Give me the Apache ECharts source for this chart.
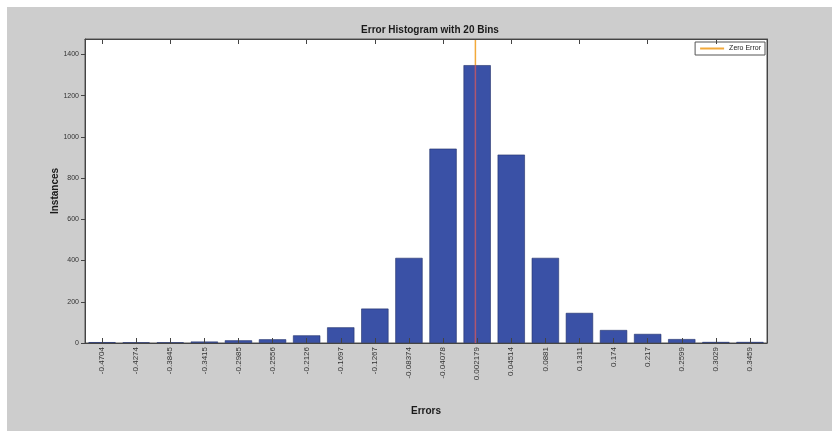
<!DOCTYPE html>
<html>
<head>
<meta charset="utf-8">
<script src="https://cdn.jsdelivr.net/npm/echarts@6/dist/echarts.min.js"></script>
<style>
html,body{margin:0;padding:0;background:#ffffff;}
#wrap{position:absolute;left:7px;top:7px;width:825px;height:424px;background:#cdcdcd;}
#chart{position:absolute;left:0;top:0;width:832px;height:431px;}
</style>
</head>
<body>
<div id="wrap"></div>
<div id="chart"></div>
<script>
var binCenters = ['-0.4704','-0.4274','-0.3845','-0.3415','-0.2985','-0.2556','-0.2126','-0.1697','-0.1267','-0.08374','-0.04078','0.002179','0.04514','0.0881','0.1311','0.174','0.217','0.2599','0.3029','0.3459'];
var instances = [4, 3, 3, 7, 13, 18, 37, 76, 167, 413, 943, 1348, 914, 413, 146, 63, 44, 19, 5, 5];
var yTicks = [0, 200, 400, 600, 800, 1000, 1200, 1400];
var zeroError = 0;
var yMax = 1475;

var first = parseFloat(binCenters[0]);
var last = parseFloat(binCenters[binCenters.length - 1]);
var binWidth = (last - first) / (binCenters.length - 1);
var xMin = first - binWidth / 2;
var xMax = last + binWidth / 2;
var zeroBinVal = instances[11];

var chart = echarts.init(document.getElementById('chart'));
var font = 'Liberation Sans, Arial, sans-serif';
chart.setOption({
  backgroundColor: 'transparent',
  animation: false,
  title: {
    text: 'Error Histogram with 20 Bins',
    left: 425, top: 20, textAlign: 'center',
    textStyle: {fontFamily: font, fontSize: 10, fontWeight: 'bold', color: '#1a1a1a'}
  },
  legend: {
    data: [{name: 'Zero Error', icon: 'rect'}],
    right: 67, top: 42,
    backgroundColor: '#ffffff', borderColor: '#555', borderWidth: 1, borderRadius: 0,
    padding: [3, 4, 3, 5], itemWidth: 24, itemHeight: 2, itemGap: 4,
    textStyle: {fontFamily: font, fontSize: 7, color: '#222'}
  },
  grid: {
    left: 85, right: 65, top: 39, bottom: 88,
    show: true, backgroundColor: '#ffffff', borderColor: '#555', borderWidth: 1
  },
  xAxis: [
    {
      type: 'category', data: binCenters, position: 'bottom', z: 10,
      name: 'Errors', nameLocation: 'middle', nameGap: 63, nameMoveOverlap: false,
      nameTextStyle: {fontFamily: font, fontSize: 10, fontWeight: 'bold', color: '#1a1a1a'},
      axisLine: {onZero: false, lineStyle: {color: '#444'}},
      axisTick: {show: true, inside: true, alignWithLabel: true, length: 5, lineStyle: {color: '#444'}},
      axisLabel: {rotate: 90, margin: 4, fontFamily: font, fontSize: 8, color: '#333', interval: 0}
    },
    {
      type: 'category', data: binCenters, position: 'top', z: 10,
      axisLine: {onZero: false, lineStyle: {color: '#444'}},
      axisTick: {show: true, inside: true, alignWithLabel: true, length: 5, lineStyle: {color: '#444'}},
      axisLabel: {show: false}
    },
    {
      type: 'value', min: xMin, max: xMax, show: false, axisLine: {onZero: false}
    }
  ],
  yAxis: [
    {
      type: 'value', min: 0, max: yMax, interval: 200, z: 10, position: 'left',
      name: 'Instances', nameLocation: 'middle', nameGap: 25, nameRotate: 90, nameMoveOverlap: false,
      nameTextStyle: {fontFamily: font, fontSize: 10, fontWeight: 'bold', color: '#1a1a1a'},
      axisLine: {show: true, onZero: false, lineStyle: {color: '#444'}},
      axisTick: {show: true, inside: false, length: 4, lineStyle: {color: '#444'}},
      axisLabel: {margin: 6, fontFamily: font, fontSize: 7, color: '#333', showMaxLabel: false,
        formatter: function (v) { return yTicks.indexOf(v) >= 0 ? String(v) : ''; }},
      splitLine: {show: false}
    },
    {
      type: 'value', min: 0, max: yMax, interval: 200, position: 'right',
      axisLine: {show: true, onZero: false, lineStyle: {color: '#444'}},
      axisTick: {show: false},
      axisLabel: {show: false}, splitLine: {show: false}
    }
  ],
  series: [
    {
      type: 'bar', name: 'Instances', data: instances, xAxisIndex: 0, yAxisIndex: 0,
      barCategoryGap: '20%',
      itemStyle: {color: '#3a51a6', borderColor: '#22306a', borderWidth: 0.6}
    },
    {
      type: 'line', name: 'Zero Error', xAxisIndex: 2, yAxisIndex: 0,
      data: [[zeroError, zeroBinVal], [zeroError, yMax]],
      symbol: 'none', z: 5,
      lineStyle: {color: '#f2a93b', width: 1.5},
      itemStyle: {color: '#f2a93b'}
    },
    {
      type: 'line', name: 'zeroInside', xAxisIndex: 2, yAxisIndex: 0,
      data: [[zeroError, 0], [zeroError, zeroBinVal]],
      symbol: 'none', z: 5,
      lineStyle: {color: '#b0566e', width: 1.5}
    }
  ]
});
</script>
</body>
</html>
